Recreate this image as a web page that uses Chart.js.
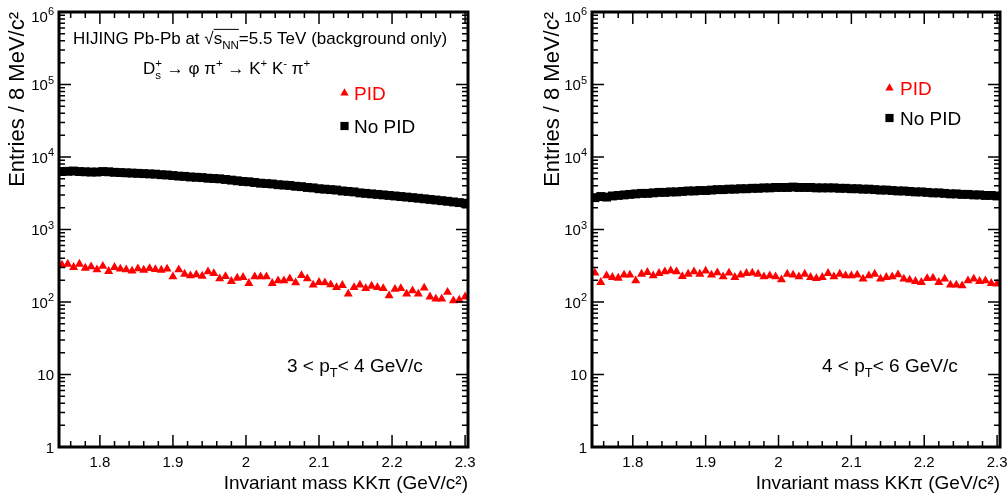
<!DOCTYPE html>
<html>
<head>
<meta charset="utf-8">
<script src="https://cdn.jsdelivr.net/npm/chart.js@4.4.3/dist/chart.umd.min.js"></script>
<style>
  body { margin: 0; background: #fff; }
  #wrap { position: relative; width: 1008px; height: 500px; }
  canvas { position: absolute; top: 0; }
  #left { left: 0; }
  #right { left: 504px; }
</style>
</head>
<body>
<div id="wrap">
  <canvas id="left" width="504" height="500"></canvas>
  <canvas id="right" width="504" height="500"></canvas>
</div>
<script>
// invariant mass bin centres (8 MeV/c^2 bins), GeV/c^2
const massBins = [
  1.748, 1.756, 1.764, 1.772, 1.780, 1.788, 1.796, 1.804, 1.812, 1.820,
  1.828, 1.836, 1.844, 1.852, 1.860, 1.868, 1.876, 1.884, 1.892, 1.900,
  1.908, 1.916, 1.924, 1.932, 1.940, 1.948, 1.956, 1.964, 1.972, 1.980,
  1.988, 1.996, 2.004, 2.012, 2.020, 2.028, 2.036, 2.044, 2.052, 2.060,
  2.068, 2.076, 2.084, 2.092, 2.100, 2.108, 2.116, 2.124, 2.132, 2.140,
  2.148, 2.156, 2.164, 2.172, 2.180, 2.188, 2.196, 2.204, 2.212, 2.220,
  2.228, 2.236, 2.244, 2.252, 2.260, 2.268, 2.276, 2.284, 2.292, 2.300
];

// 3 < pT < 4 GeV/c
const noPidLow = [
  6300, 6350, 6400, 6300, 6250, 6200, 6200, 6300, 6250, 6150,
  6100, 6050, 6000, 5950, 5900, 5850, 5800, 5700, 5650, 5550,
  5450, 5400, 5300, 5250, 5200, 5100, 5050, 5000, 4900, 4800,
  4700, 4600, 4550, 4450, 4350, 4300, 4250, 4150, 4100, 4050,
  3950, 3900, 3800, 3750, 3650, 3600, 3550, 3500, 3400, 3350,
  3300, 3200, 3150, 3100, 3050, 3000, 2950, 2900, 2850, 2800,
  2750, 2700, 2650, 2600, 2550, 2500, 2450, 2400, 2350, 2300
];
const pidLow = [
  324, 334, 301, 334, 294, 307, 279, 311, 265, 301,
  285, 279, 268, 288, 276, 291, 282, 276, 285, 223,
  279, 243, 231, 238, 228, 262, 248, 210, 226, 193,
  214, 219, 181, 223, 223, 223, 181, 197, 197, 210,
  185, 233, 210, 172, 187, 185, 173, 159, 170, 129,
  159, 172, 154, 166, 159, 154, 122, 150, 154, 129,
  143, 129, 156, 118, 110, 110, 137, 104, 107, 118
];

// 4 < pT < 6 GeV/c
const noPidHigh = [
  2750, 2850, 2800, 2900, 2950, 3000, 3050, 3100, 3150, 3150,
  3200, 3250, 3250, 3300, 3300, 3350, 3400, 3400, 3450, 3450,
  3500, 3550, 3550, 3600, 3600, 3650, 3650, 3700, 3700, 3750,
  3750, 3800, 3800, 3800, 3850, 3800, 3800, 3800, 3750, 3750,
  3750, 3750, 3700, 3700, 3650, 3650, 3600, 3600, 3550, 3500,
  3500, 3450, 3400, 3400, 3350, 3300, 3300, 3250, 3200, 3200,
  3150, 3100, 3100, 3050, 3050, 3000, 3000, 2950, 2950, 2900
];
const pidHigh = [
  251, 187, 231, 219, 214, 236, 236, 197, 243, 257,
  231, 249, 262, 271, 262, 226, 243, 262, 243, 268,
  236, 254, 224, 251, 219, 236, 249, 251, 243, 224,
  231, 224, 203, 243, 236, 224, 243, 219, 212, 219,
  249, 224, 243, 231, 231, 236, 208, 231, 243, 208,
  219, 224, 238, 208, 201, 193, 187, 212, 214, 187,
  208, 172, 172, 168, 197, 208, 193, 197, 181, 177
];

const xTickValues = [1.8, 1.9, 2.0, 2.1, 2.2, 2.3];
const yTickExponents = [0, 1, 2, 3, 4, 5, 6];
const seriesNames = ['PID', 'No PID'];

const FONT = "'Liberation Sans', Arial, Helvetica, sans-serif";
const RED = '#ff0000';
const TRI_R = 5.2;
const SQ_R = 6.3;
Chart.defaults.font.family = FONT;
Chart.defaults.color = '#000';

// draws text made of normal / sub / sup / overlined pieces
function drawRich(ctx, x, y, parts, size) {
  let cx = x;
  let overA = null, overB = null;
  const small = size * 0.68;
  for (const p of parts) {
    const item = typeof p === 'string' ? {t: p} : p;
    const x0 = cx;
    if (item.t) {
      ctx.font = size + 'px ' + FONT;
      ctx.fillText(item.t, cx, y);
      cx += ctx.measureText(item.t).width;
    } else {
      ctx.font = small + 'px ' + FONT;
      let w = 0;
      if (item.sub) {
        ctx.fillText(item.sub, cx, y + size * 0.28);
        w = Math.max(w, ctx.measureText(item.sub).width);
      }
      if (item.sup) {
        ctx.fillText(item.sup, cx, y - size * 0.42);
        w = Math.max(w, ctx.measureText(item.sup).width);
      }
      cx += w;
    }
    if (item.over) {
      if (overA === null) overA = x0;
      overB = cx;
    }
  }
  if (overA !== null) {
    ctx.lineWidth = 1;
    ctx.beginPath();
    ctx.moveTo(overA, y - size * 0.86);
    ctx.lineTo(overB, y - size * 0.86);
    ctx.stroke();
  }
}

const rootFrame = {
  id: 'rootFrame',
  afterDraw(chart, args, opts) {
    const {ctx, chartArea: a, scales: {x, y}} = chart;
    ctx.save();
    ctx.strokeStyle = '#000';
    ctx.fillStyle = '#000';

    // ticks on all four sides, pointing inwards
    ctx.lineWidth = 1.5;
    ctx.beginPath();
    for (let i = 0; i <= 27; i++) {
      const px = x.getPixelForValue(1.76 + 0.02 * i);
      const len = (i % 5 === 2) ? 12 : 6;
      ctx.moveTo(px, a.bottom); ctx.lineTo(px, a.bottom - len);
      ctx.moveTo(px, a.top); ctx.lineTo(px, a.top + len);
    }
    for (let k = 0; k < 6; k++) {
      for (let m = 1; m <= 9; m++) {
        const py = y.getPixelForValue(m * Math.pow(10, k));
        const len = m === 1 ? 12 : 6;
        ctx.moveTo(a.left, py); ctx.lineTo(a.left + len, py);
        ctx.moveTo(a.right, py); ctx.lineTo(a.right - len, py);
      }
    }
    ctx.stroke();

    // frame
    ctx.lineWidth = 3;
    ctx.strokeRect(a.left, a.top, a.right - a.left, a.bottom - a.top);

    // y tick labels 1, 10, 10^2 ...
    ctx.textBaseline = 'alphabetic';
    ctx.textAlign = 'left';
    for (const e of yTickExponents) {
      const py = y.getPixelForValue(Math.pow(10, e));
      const base = e === 0 ? '1' : '10';
      ctx.font = '15px ' + FONT;
      const wBase = ctx.measureText(base).width;
      let wExp = 0;
      const expTxt = e > 1 ? String(e) : '';
      if (expTxt) {
        ctx.font = '11px ' + FONT;
        wExp = ctx.measureText(expTxt).width;
      }
      const right = a.left - 5;
      const yy = e === 6 ? py + 4 : py;
      ctx.font = '15px ' + FONT;
      ctx.fillText(base, right - wExp - wBase, yy + 5.5);
      if (expTxt) {
        ctx.font = '11px ' + FONT;
        ctx.fillText(expTxt, right - wExp, yy - 1);
      }
    }

    // legend
    const lg = opts.legend;
    ctx.fillStyle = RED;
    Chart.helpers.drawPoint(ctx, {pointStyle: 'triangle', radius: 4.8, rotation: 0, borderWidth: 0}, lg.mx, lg.y1);
    ctx.font = '19px ' + FONT;
    ctx.fillText(seriesNames[0], lg.tx, lg.y1 + 7);
    ctx.fillStyle = '#000';
    Chart.helpers.drawPoint(ctx, {pointStyle: 'rect', radius: 5.8, rotation: 0, borderWidth: 0}, lg.mx, lg.y2);
    ctx.fillText(seriesNames[1], lg.tx, lg.y2 + 7);

    // annotations
    for (const t of opts.texts) {
      drawRich(ctx, t.x, t.y, t.parts, t.size);
    }
    ctx.restore();
  }
};

function makeChart(id, pid, noPid, frame) {
  return new Chart(document.getElementById(id), {
    type: 'line',
    data: {
      datasets: [
        {
          label: seriesNames[1],
          data: massBins.map((m, i) => ({x: m, y: noPid[i]})),
          showLine: false,
          pointStyle: 'rect',
          pointRadius: SQ_R,
          pointBorderWidth: 0,
          pointBackgroundColor: '#000'
        },
        {
          label: seriesNames[0],
          data: massBins.map((m, i) => ({x: m, y: pid[i]})),
          showLine: false,
          pointStyle: 'triangle',
          pointRadius: TRI_R,
          pointBorderWidth: 0,
          pointBackgroundColor: RED
        }
      ]
    },
    options: {
      responsive: false,
      animation: false,
      events: [],
      layout: {padding: {left: frame.padLeft, right: frame.padRight, top: 12, bottom: 0}},
      plugins: {
        legend: {display: false},
        tooltip: {enabled: false},
        rootFrame: frame
      },
      scales: {
        x: {
          type: 'linear',
          min: 1.744,
          max: 2.304,
          grid: {display: false, drawTicks: false},
          border: {display: false},
          afterBuildTicks: s => { s.ticks = xTickValues.map(v => ({value: v})); },
          afterFit: s => { s.height = 53; s.paddingLeft = 0; s.paddingRight = 0; },
          ticks: {
            autoSkip: false,
            maxRotation: 0,
            padding: 7,
            font: {size: 15},
            color: '#000',
            callback: v => String(Math.round(v * 10) / 10)
          },
          title: {
            display: true,
            text: 'Invariant mass KKπ (GeV/c²)',
            align: 'end',
            font: {size: 19},
            color: '#000',
            padding: {top: 0, bottom: 5}
          }
        },
        y: {
          type: 'logarithmic',
          min: 1,
          max: 1e6,
          grid: {display: false, drawTicks: false},
          border: {display: false},
          ticks: {display: false},
          afterFit: s => { s.width = frame.axisWidth; s.paddingTop = 0; s.paddingBottom = 0; },
          title: {
            display: true,
            text: 'Entries / 8 MeV/c²',
            align: 'end',
            font: {size: 22},
            color: '#000',
            padding: {top: 5, bottom: 0}
          }
        }
      }
    },
    plugins: [rootFrame]
  });
}

makeChart('left', pidLow, noPidLow, {
  padLeft: 0, padRight: 36, axisWidth: 59,
  legend: {mx: 344.5, tx: 354, y1: 93, y2: 126},
  texts: [
    {x: 73, y: 44, size: 17, parts: ['HIJING Pb-Pb at ', '√', {t: 's', over: true}, {sub: 'NN', over: true}, '=5.5 TeV (background only)']},
    {x: 143, y: 74, size: 17, parts: ['D', {sub: 's', sup: '+'}, ' → φ π', {sup: '+'}, ' → K', {sup: '+'}, ' K', {sup: '-'}, ' π', {sup: '+'}]},
    {x: 287, y: 372, size: 19, parts: ['3 < p', {sub: 'T'}, '< 4 GeV/c']}
  ]
});

makeChart('right', pidHigh, noPidHigh, {
  padLeft: 31, padRight: 8, axisWidth: 57,
  legend: {mx: 385.5, tx: 396, y1: 88, y2: 118},
  texts: [
    {x: 318, y: 372, size: 19, parts: ['4 < p', {sub: 'T'}, '< 6 GeV/c']}
  ]
});
</script>
</body>
</html>
